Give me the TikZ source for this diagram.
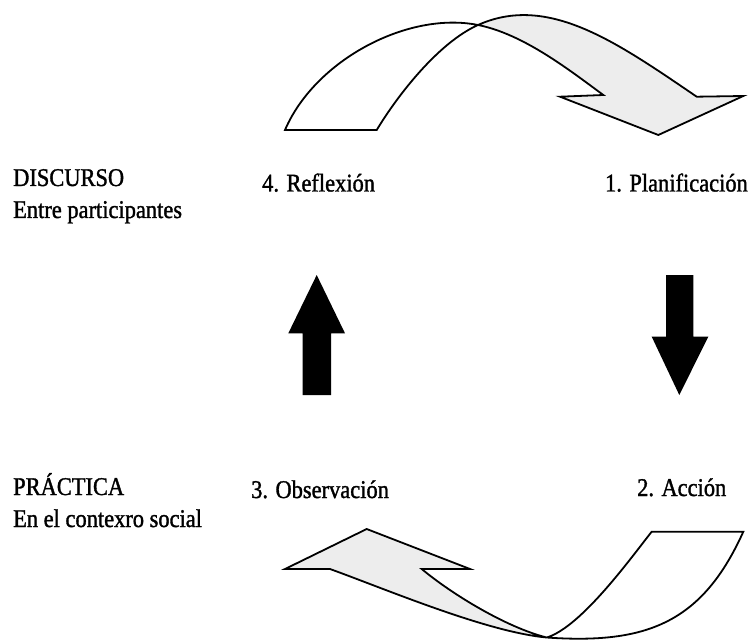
\documentclass[tikz,border=0pt]{standalone}
\usepackage{fontspec}
\setmainfont{Liberation Serif}[FakeStretch=0.88,FakeBold=1.3]
\tikzset{
  lbl/.style={anchor=base west, inner sep=0pt, font=\fontsize{25.5}{30}\selectfont},
  ribbon/.style={draw=black, line width=1.8pt, line join=miter},
  backside/.style={fill=black!7},
  frontside/.style={fill=white},
  blockarrow/.style={fill=black, draw=none}
}
\begin{document}
\begin{tikzpicture}[x=1pt,y=-1pt]
\useasboundingbox (0,0) rectangle (751,644);
% top ribbon arrow
\path[frontside] (285,130) .. controls (315,60) and (408,11) .. (478,25)
  .. controls (438,43) and (397.4,95.7) .. (376.7,130) -- cycle;
\path[backside] (478,25) .. controls (548,-6.5) and (616.7,42.3) .. (696.7,96.7)
  -- (743.3,96) -- (658.3,135) -- (560,96.7) -- (603.3,95)
  .. controls (568,69) and (523,34) .. (478,25) -- cycle;
\draw[ribbon] (285,130) .. controls (315,60) and (408,11) .. (478,25)
  .. controls (523,34) and (568,69) .. (603.3,95) -- (560,96.7) -- (658.3,135)
  -- (743.3,96) -- (696.7,96.7) .. controls (616.7,42.3) and (548,-6.5) .. (478,25)
  .. controls (438,43) and (397.4,95.7) .. (376.7,130) -- cycle;
% bottom ribbon arrow
\path[frontside] (546.7,637.5) .. controls (581.7,627) and (633,555) .. (651.7,531.7)
  -- (743.3,531.7) .. controls (702.3,622.7) and (646.7,644.5) .. (546.7,637.5) -- cycle;
\path[backside] (546.7,637.5) .. controls (506.7,627.5) and (452.5,594.6) .. (421.7,569)
  -- (470,569) -- (366.7,529) -- (285,569) -- (330,569)
  .. controls (386.4,589.4) and (486.7,632) .. (546.7,637.5) -- cycle;
\draw[ribbon] (651.7,531.7) -- (743.3,531.7) .. controls (702.3,622.7) and (646.7,644.5) .. (546.7,637.5)
  .. controls (486.7,632) and (386.4,589.4) .. (330,569) -- (285,569) -- (366.7,529)
  -- (470,569) -- (421.7,569) .. controls (452.5,594.6) and (506.7,627.5) .. (546.7,637.5)
  .. controls (581.7,627) and (633,555) .. (651.7,531.7) -- cycle;
% vertical block arrows
\fill[blockarrow] (302.7,395) -- (302.7,333.3) -- (288.3,333.3) -- (316.7,275)
  -- (345,333.3) -- (331,333.3) -- (331,395) -- cycle;
\fill[blockarrow] (666,275) -- (693.3,275) -- (693.3,336.7) -- (708.3,336.7)
  -- (679.3,395) -- (651.7,336.7) -- (666,336.7) -- cycle;
% labels
\node[lbl] (disc) at (13,186) {DISCURSO};
\node[lbl] (entre) at (13,218) {Entre participantes};
\node[lbl] (refl) at (262,191.5) {4. Reflexión};
\node[lbl, anchor=base east] (plan) at (748,191.5) {1. Planificación};
\node[lbl] (prac) at (13,495) {PRÁCTICA};
\node[lbl] (ctx) at (13,527) {En el contexro social};
\node[lbl] (obs) at (251,498) {3. Observación};
\node[lbl] (acc) at (637,496) {2. Acción};
\end{tikzpicture}
\end{document}
